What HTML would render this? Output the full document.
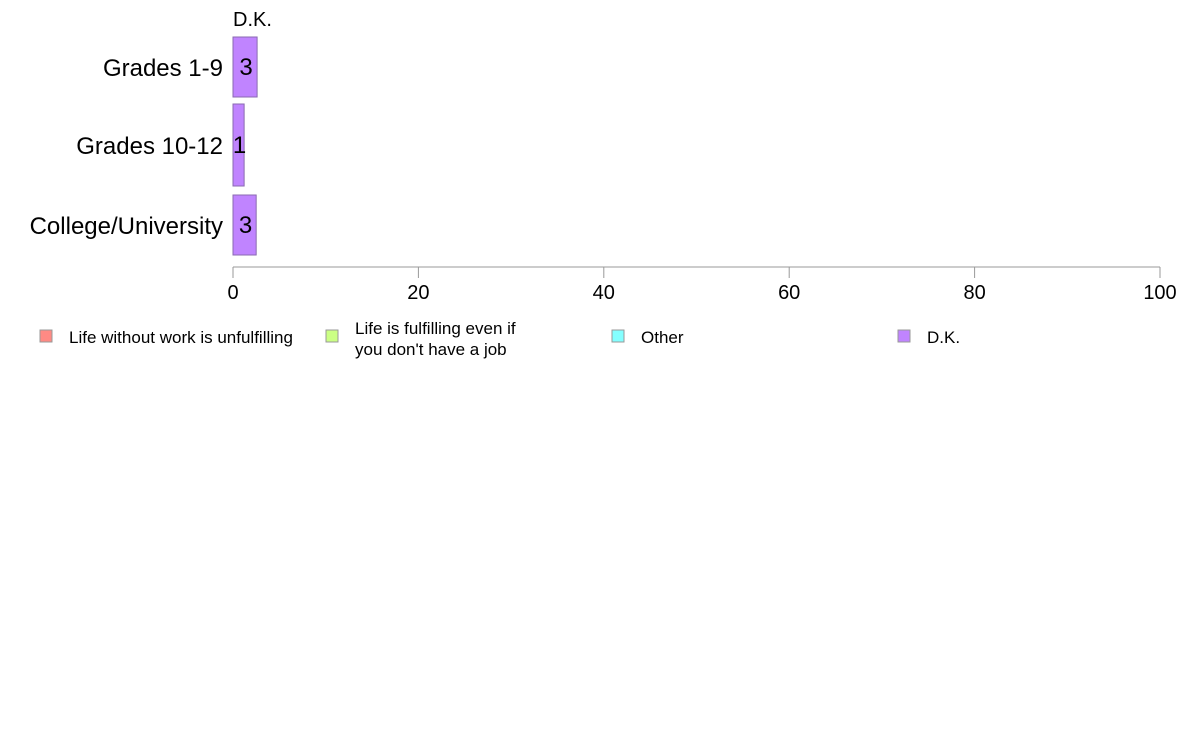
<!DOCTYPE html>
<html><head><meta charset="utf-8"><style>
body{margin:0;background:#fff;font-family:"Liberation Sans",Arial,sans-serif}
svg text{font-family:"Liberation Sans",Arial,sans-serif}
</style></head><body>
<svg id="c" width="1188" height="736" xmlns="http://www.w3.org/2000/svg"></svg>
<script>
const categories=["Grades 1-9","Grades 10-12","College/University"];
const dkValues=[2.6,1.2,2.5];
const dkLabels=["3","1","3"];
const xTicks=[0,20,40,60,80,100];
const legendItems=["Life without work is unfulfilling","Life is fulfilling even if|you don't have a job","Other","D.K."];
const legendColors=["#ff8a84","#cbff84","#84ffff","#c084ff"];
const barBands=[[37,97],[104,186],[195,255]];
const svg=document.getElementById('c');
const NS="http://www.w3.org/2000/svg";
const x0=233,x1=1160;
function xs(v){return x0+(v/100)*(x1-x0);}
function mk(t,a,txt){const e=document.createElementNS(NS,t);for(const k in a)e.setAttribute(k,a[k]);if(txt!==undefined)e.textContent=txt;svg.appendChild(e);return e;}
let t=mk('text',{x:233,y:26,'font-size':20,fill:'#000'},'D.K.');


categories.forEach((c,i)=>{
 const [ya,yb]=barBands[i];
 const r=mk('rect',{x:xs(0),y:ya,width:xs(dkValues[i])-xs(0),height:yb-ya,fill:'#c084ff',stroke:'#8a6ab0','stroke-width':1});
 
 
 const l=mk('text',{x:(xs(0)+xs(dkValues[i]))/2+1,y:(ya+yb)/2+8,'font-size':24,'text-anchor':'middle',fill:'#000'},dkLabels[i]);
 
 
 const cl=mk('text',{x:223,y:(ya+yb)/2+9,'font-size':24,'text-anchor':'end',fill:'#000'},c);
 
 
});
const ax=mk('line',{x1:x0,y1:267,x2:x1,y2:267,stroke:'#999','stroke-width':1});


xTicks.forEach(v=>{
 const tk=mk('line',{x1:xs(v),y1:267,x2:xs(v),y2:278,stroke:'#999','stroke-width':1});
 
 
 const tl=mk('text',{x:xs(v),y:299,'font-size':20,'text-anchor':'middle',fill:'#000'},String(v));
 
 
});
const lx=[40,326,612,898];
legendItems.forEach((s,i)=>{
 const sw=mk('rect',{x:lx[i],y:330,width:12,height:12,fill:legendColors[i],stroke:'#999','stroke-width':1});
 
 
 const lines=s.split('|');
 lines.forEach((ln,j)=>{
  const y=lines.length>1?334+j*21:343;
  const tt=mk('text',{x:lx[i]+29,y:y,'font-size':17,fill:'#000'},ln);
  
  
 });
});
</script>
</body></html>
